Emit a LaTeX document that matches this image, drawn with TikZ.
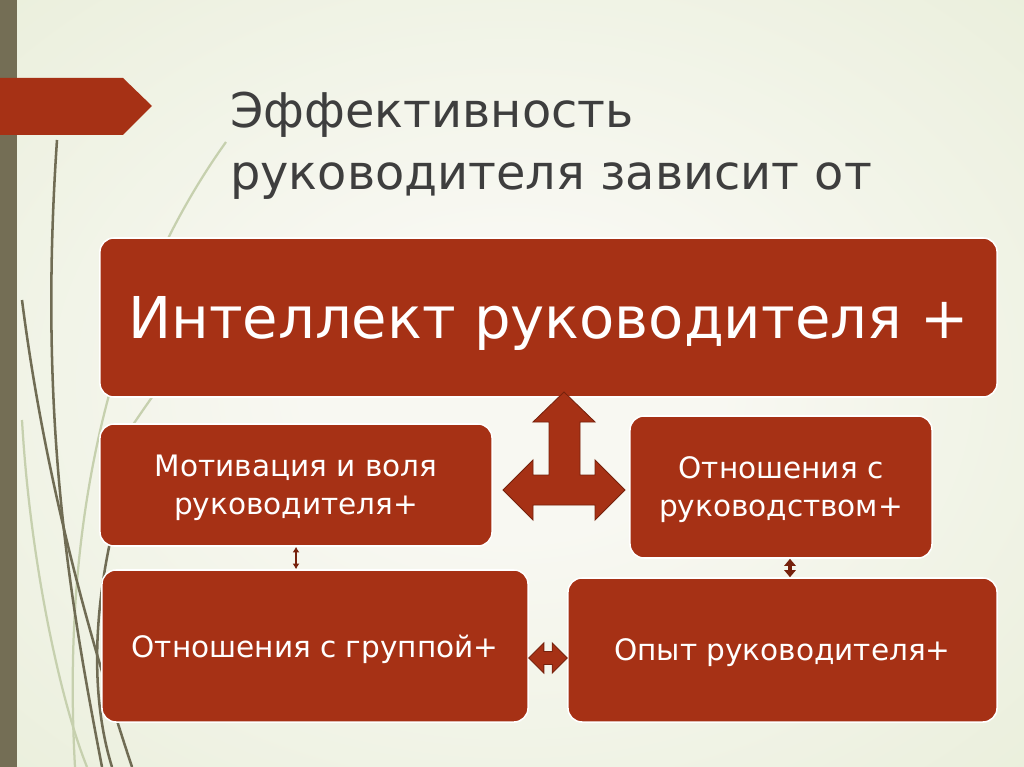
\documentclass[tikz,border=0pt]{standalone}
\usepackage{fontspec}
\setmainfont{DejaVu Sans}
\usetikzlibrary{arrows.meta,calc}
\definecolor{boxred}{RGB}{166,49,21}
\definecolor{arrowedge}{RGB}{118,33,12}
\definecolor{barolive}{RGB}{116,110,85}
\definecolor{grassdark}{RGB}{112,108,84}
\definecolor{grasslight}{RGB}{198,208,174}
\definecolor{bgin}{RGB}{248,248,242}
\definecolor{bgout}{RGB}{222,231,200}
\definecolor{titlegray}{RGB}{62,62,62}
\pgfdeclareradialshading{slidebg}{\pgfpoint{0bp}{0bp}}{color(0bp)=(bgin); color(10bp)=(bgin); color(60bp)=(bgout); color(80bp)=(bgout)}

\begin{document}
\begin{tikzpicture}[x=0.025cm,y=-0.025cm,
    box/.style={rectangle,rounded corners=10pt,fill=boxred,draw=white,line width=1.1pt,
      text=white,align=center,inner sep=0pt,text depth=0pt},
    small/.style={font=\fontsize{21}{27}\selectfont},
    title/.style={anchor=base west,inner sep=0pt,text=titlegray,font=\fontsize{34}{42}\selectfont},
    grass/.style={grassdark,line width=1.8pt},
    pale/.style={grasslight,line width=1.6pt},
    blockarrow/.style={fill=boxred,draw=arrowedge,line width=0.6pt,line join=miter}]
  \useasboundingbox (0,0) rectangle (1024,767);
  \shade[shading=slidebg] (0,0) rectangle (1024,767);
  \fill[barolive] (0,0) rectangle (17,767);
  % grass
  \draw[pale] (226,142) .. controls (120,290) and (60,500) .. (75,767);
  \draw[pale] (22,420) .. controls (30,560) and (60,700) .. (87,767);
  \draw[pale] (200,330) .. controls (150,400) and (120,440) .. (100,480);
  \draw[grass] (57,140) .. controls (38,420) and (70,600) .. (102,767);
  \draw[grass] (22,300) .. controls (45,480) and (90,640) .. (132,767);
  \draw[grass] (140,440) .. controls (95,560) and (85,680) .. (112,767);
  \fill[boxred] (0,78) -- (123,78) -- (152,106) -- (123,135) -- (0,135) -- cycle;
  % title
  \node[title] (title1) at (230,128) {Эффективность};
  \node[title] (title2) at (230,190) {руководителя зависит от};
  % boxes
  \node[box,minimum width=22.425cm,minimum height=3.975cm,font=\fontsize{41}{48}\selectfont]
    (top) at (548.5,317.5) {Интеллект руководителя +};
  \node[box,small,minimum width=9.8cm,minimum height=3.05cm]
    (ml) at (296,485) {Мотивация и воля\\руководителя+};
  \node[box,small,minimum width=7.55cm,minimum height=3.55cm]
    (mr) at (781,487) {Отношения с\\руководством+};
  \node[box,small,minimum width=10.65cm,minimum height=3.8cm]
    (bl) at (315,646) {Отношения с группой+};
  \node[box,small,minimum width=10.725cm,minimum height=3.6cm]
    (br) at (782.5,650) {Опыт руководителя+};
  % arrows
  \coordinate (hub) at (564,490);
  \draw[blockarrow,shift={(hub)}] (0,-98) -- (31,-68) -- (16,-68) -- (16,-15) -- (31,-15)
    -- (31,-30) -- (61,0) -- (31,30) -- (31,15) -- (-31,15) -- (-31,30) -- (-61,0)
    -- (-31,-30) -- (-31,-15) -- (-15,-15) -- (-15,-68) -- (-31,-68) -- cycle;
  \draw[arrowedge,line width=1.3pt,{Latex[length=4pt,width=5pt]}-{Latex[length=4pt,width=5pt]}]
    (ml.south) -- (ml.south |- bl.north);
  \coordinate (mrfoot) at ($(mr.south)+(9,0)$);
  \draw[arrowedge,line width=3pt,{Triangle[length=5pt,width=8pt]}-{Triangle[length=5pt,width=8pt]}]
    (mrfoot) -- (mrfoot |- br.north);
  \coordinate (hl) at ($(bl.east)+(0,12)$);
  \coordinate (hr) at ($(br.west)+(0,8)$);
  \draw[blockarrow] (hl) -- ++(15,-15) -- ++(0,8.5) -- ($(hr)+(-15,-6.5)$) -- ++(0,-8.5)
    -- (hr) -- ++(-15,15) -- ++(0,-8.5) -- ($(hl)+(15,6.5)$) -- ++(0,8.5) -- cycle;
\end{tikzpicture}
\end{document}
